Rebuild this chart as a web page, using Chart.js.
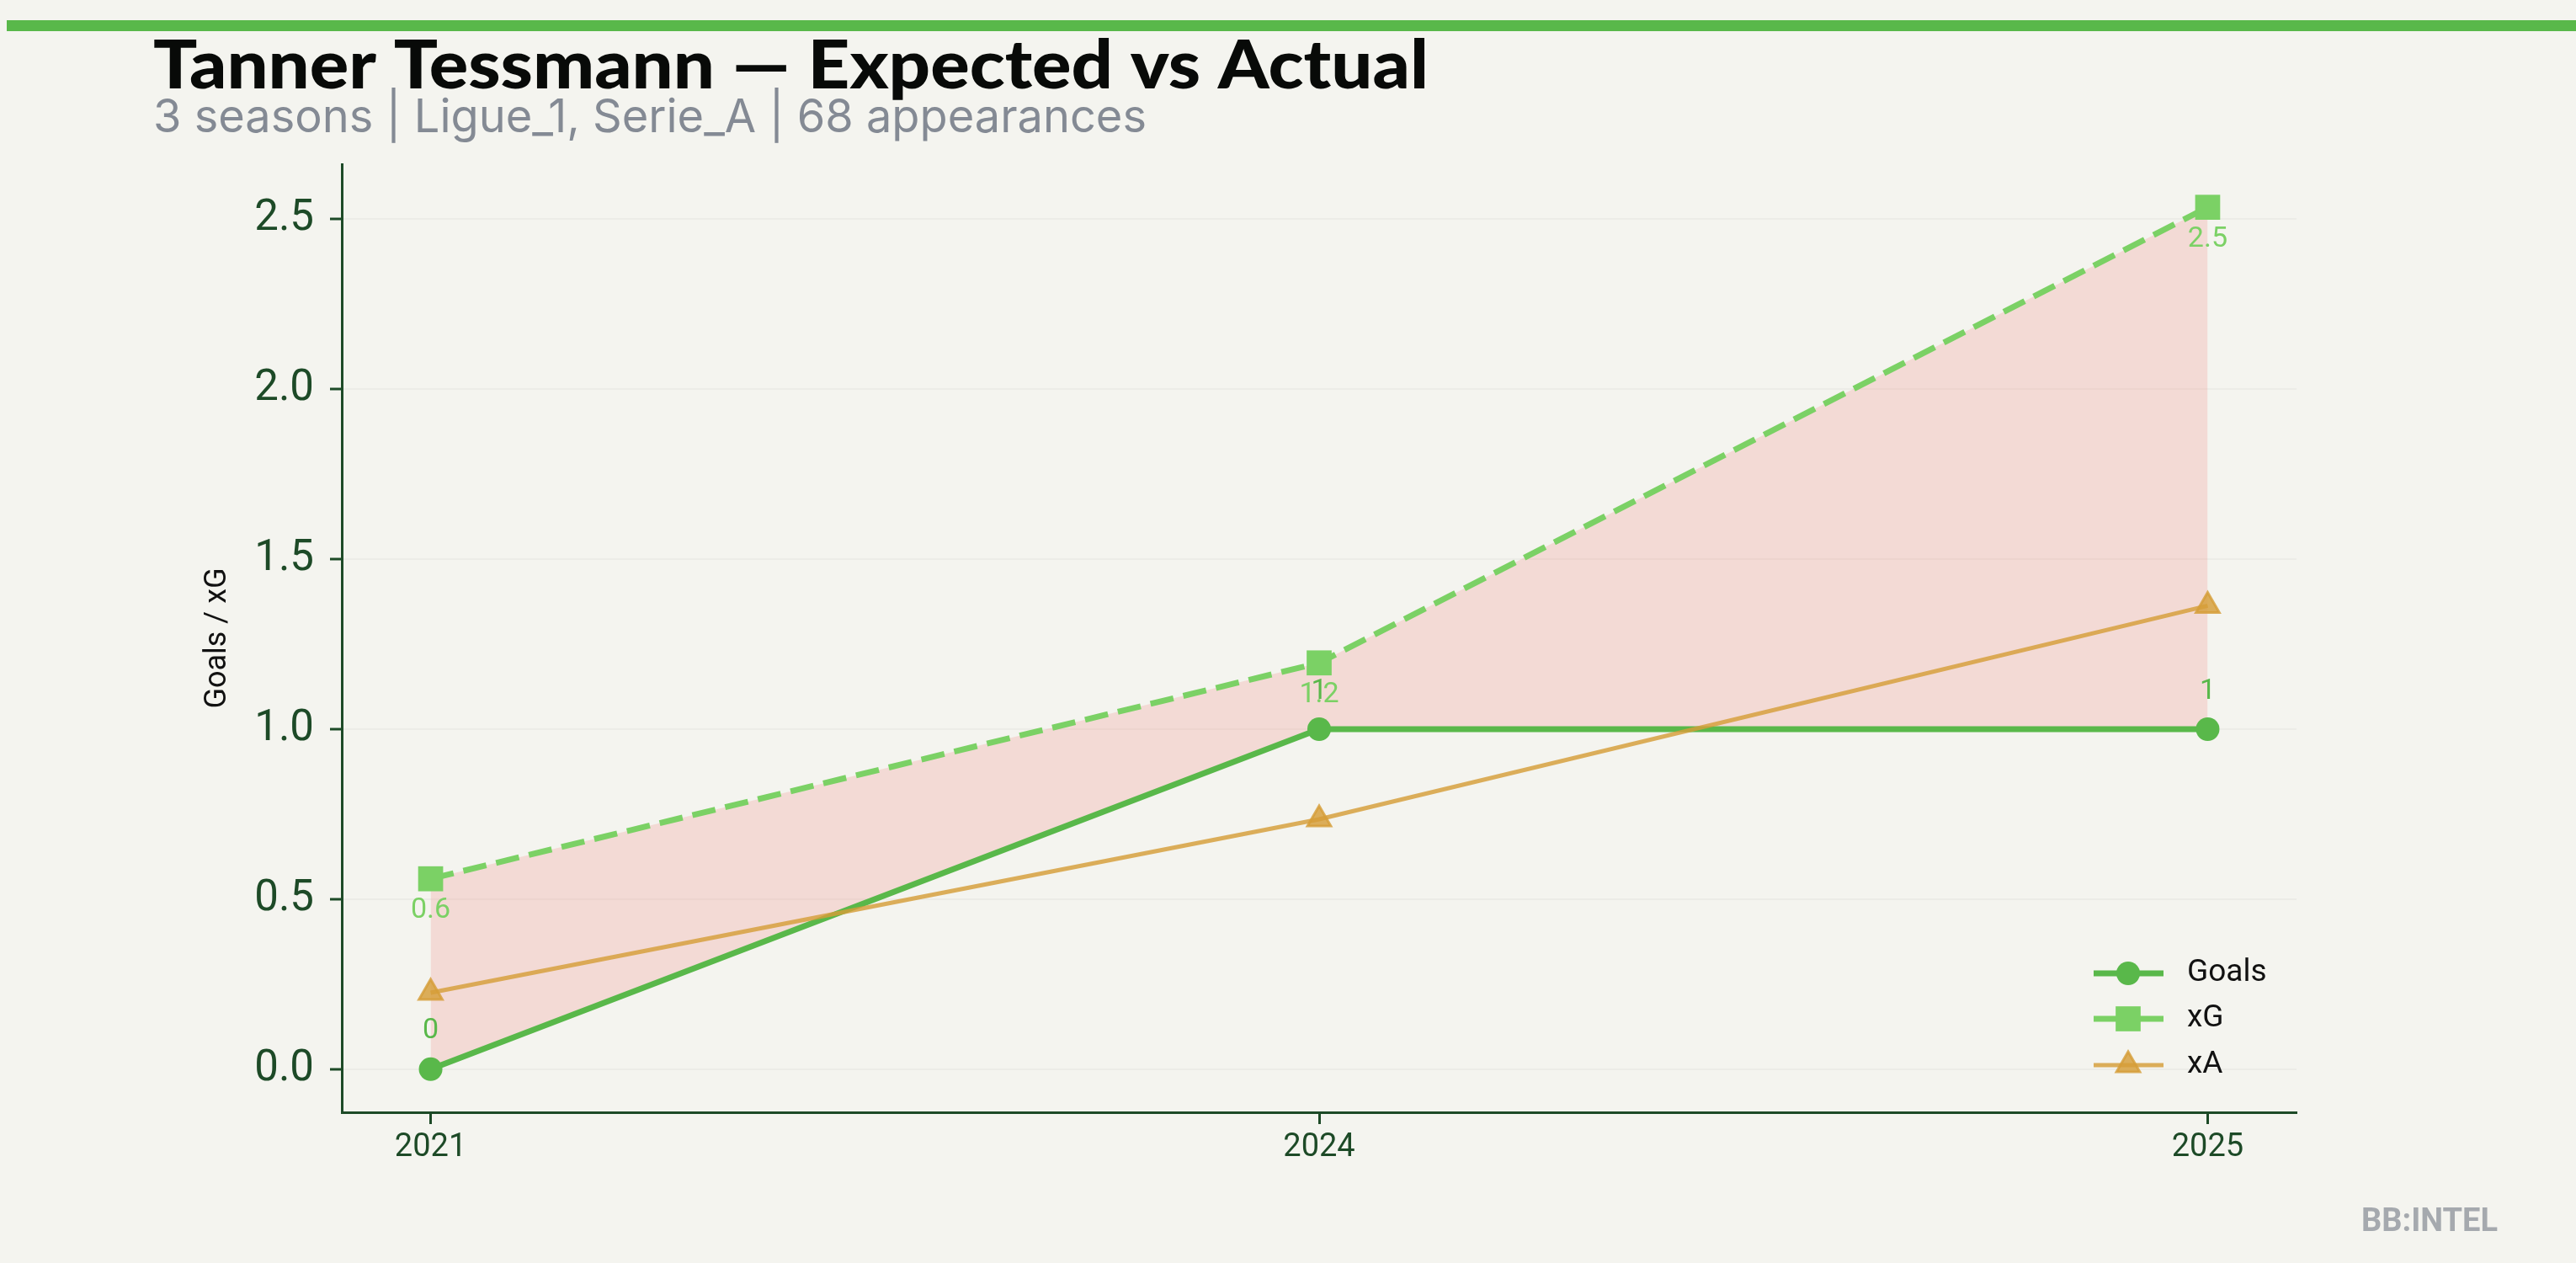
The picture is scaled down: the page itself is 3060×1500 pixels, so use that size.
<!DOCTYPE html>
<html>
<head>
<meta charset="utf-8">
<script src="https://cdn.jsdelivr.net/npm/chart.js@4.4.1/dist/chart.umd.min.js"></script>
<style>
html, body { margin: 0; padding: 0; background: #f4f4ef; }
#wrap { width: 3060px; height: 1500px; }
</style>
</head>
<body>
<div id="wrap"><canvas id="xgChart" width="3060" height="1500"></canvas></div>
<script>
// values
var seasons = ['2021', '2024', '2025'];
var goals = [0, 1, 1];
var xG = [0.56, 1.195, 2.535];
var xA = [0.225, 0.735, 1.363];
var yTicks = [0, 0.5, 1, 1.5, 2, 2.5];
var seriesNames = ['Goals', 'xG', 'xA'];

var titleText = 'Tanner Tessmann \u2014 Expected vs Actual';
var subText = '3 seasons | Ligue_1, Serie_A | 68 appearances';

var BG = '#f4f4ef';
var AXIS = '#1d4a27';
var GREEN = '#59b84a';
var LIGHT = '#7bd165';
var GOLD = 'rgba(214,158,56,0.82)';

function toPoints(arr) {
    return arr.map(function (v, i) { return {x: i, y: v}; });
}

// matplotlib style 5% margins on the y range
var allVals = goals.concat(xG, xA);
var lo = Math.min.apply(null, allVals), hi = Math.max.apply(null, allVals);
var pad = (hi - lo) * 0.05;

// draw text squeezed/stretched to a given width
function fitText(ctx, text, x, y, width) {
    var w = ctx.measureText(text).width;
    ctx.save();
    ctx.translate(x, y);
    ctx.scale(width / w, 1);
    ctx.fillText(text, 0, 0);
    ctx.restore();
}

var headerPlugin = {
    id: 'header',
    beforeDraw: function (chart) {
        var ctx = chart.ctx;
        ctx.save();
        ctx.fillStyle = BG;
        ctx.fillRect(0, 0, chart.width, chart.height);
        ctx.fillStyle = GREEN;
        ctx.fillRect(8, 24, chart.width - 8, 13);
        ctx.textAlign = 'left';
        ctx.textBaseline = 'alphabetic';
        ctx.fillStyle = '#080a08';
        ctx.font = '900 80px Lato';
        fitText(ctx, titleText, 182, 105, 1515);
        ctx.fillStyle = '#848a94';
        ctx.font = '55px Inter';
        fitText(ctx, subText, 182, 157, 1180);
        ctx.restore();
    }
};

function marker(ctx, style, x, y, r) {
    ctx.beginPath();
    if (style === 'circle') {
        ctx.arc(x, y, r, 0, Math.PI * 2);
    } else if (style === 'rect') {
        var s = r * Math.SQRT1_2;
        ctx.rect(x - s, y - s, 2 * s, 2 * s);
    } else {
        ctx.moveTo(x, y - r);
        ctx.lineTo(x + r * 0.866, y + r / 2);
        ctx.lineTo(x - r * 0.866, y + r / 2);
        ctx.closePath();
    }
}

var overlayPlugin = {
    id: 'overlay',
    afterDatasetsDraw: function (chart) {
        var ctx = chart.ctx;
        ctx.save();
        ctx.font = '34px Roboto';
        ctx.textAlign = 'center';
        ctx.textBaseline = 'middle';
        // value labels: xG under the squares, goals above the circles
        chart.getDatasetMeta(1).data.forEach(function (pt, i) {
            ctx.fillStyle = LIGHT;
            ctx.fillText(xG[i].toFixed(1), pt.x, pt.y + 38);
        });
        chart.getDatasetMeta(0).data.forEach(function (pt, i) {
            ctx.fillStyle = GREEN;
            ctx.fillText(String(goals[i]), pt.x, pt.y - 45);
        });

        // legend
        var rowY = [1156, 1210, 1265];
        chart.data.datasets.forEach(function (ds, i) {
            var y = rowY[i];
            ctx.strokeStyle = ds.borderColor;
            ctx.lineWidth = ds.borderWidth;
            ctx.setLineDash([]);
            ctx.beginPath();
            ctx.moveTo(2487, y);
            ctx.lineTo(2570, y);
            ctx.stroke();
            marker(ctx, ds.pointStyle, 2528, y, ds.pointRadius);
            ctx.fillStyle = ds.pointBackgroundColor;
            ctx.fill();
            if (ds.pointBorderWidth) {
                ctx.lineWidth = ds.pointBorderWidth;
                ctx.strokeStyle = ds.pointBorderColor;
                ctx.stroke();
            }
            ctx.fillStyle = '#111';
            ctx.font = '37px Roboto';
            ctx.textAlign = 'left';
            ctx.fillText(seriesNames[i], 2598, y);
        });

        // watermark
        ctx.fillStyle = '#a5a9ae';
        ctx.font = 'bold 38px Roboto';
        ctx.textAlign = 'right';
        ctx.textBaseline = 'alphabetic';
        ctx.fillText('BB:INTEL', 2967, 1462);
        ctx.restore();
    }
};

const ctx = document.getElementById('xgChart').getContext('2d');
const xgChart = new Chart(ctx, {
    type: 'line',
    data: {
        datasets: [{
            label: seriesNames[0],
            data: toPoints(goals),
            borderColor: GREEN,
            borderWidth: 7,
            pointStyle: 'circle',
            pointRadius: 14,
            pointBackgroundColor: GREEN,
            pointBorderWidth: 0,
            fill: false,
            order: 1
        }, {
            label: seriesNames[1],
            data: toPoints(xG),
            borderColor: LIGHT,
            borderWidth: 7,
            borderDash: [28, 12],
            pointStyle: 'rect',
            pointRadius: 21,
            pointBackgroundColor: LIGHT,
            pointBorderWidth: 0,
            fill: {target: 0},
            backgroundColor: 'rgba(244,140,128,0.24)',
            order: 2
        }, {
            label: seriesNames[2],
            data: toPoints(xA),
            borderColor: GOLD,
            borderWidth: 5,
            pointStyle: 'triangle',
            pointRadius: 16,
            pointBackgroundColor: GOLD,
            pointBorderColor: GOLD,
            pointBorderWidth: 3,
            fill: false,
            order: 0
        }]
    },
    options: {
        responsive: false,
        animation: false,
        devicePixelRatio: 1,
        layout: { padding: { top: 195, right: 332, bottom: 0, left: 0 } },
        plugins: {
            legend: { display: false },
            tooltip: { enabled: false },
            filler: { drawTime: 'beforeDatasetsDraw' }
        },
        scales: {
            x: {
                type: 'linear',
                min: -0.1,
                max: seasons.length - 1 + 0.1,
                afterFit: function (scale) { scale.height = 179; },
                afterBuildTicks: function (scale) {
                    scale.ticks = seasons.map(function (s, i) { return {value: i}; });
                },
                ticks: {
                    callback: function (v) { return seasons[v]; },
                    font: { family: 'Roboto', size: 38 },
                    color: AXIS,
                    padding: 6,
                    maxRotation: 0,
                    autoSkip: false
                },
                grid: { drawOnChartArea: false, tickLength: 14, tickWidth: 3, tickColor: AXIS },
                border: { color: AXIS, width: 3 }
            },
            y: {
                min: lo - pad,
                max: hi + pad,
                afterFit: function (scale) { scale.width = 406; },
                afterBuildTicks: function (scale) {
                    scale.ticks = yTicks.map(function (v) { return {value: v}; });
                },
                ticks: {
                    callback: function (v) { return v.toFixed(1); },
                    font: { family: 'Roboto', size: 51 },
                    color: AXIS,
                    padding: 19
                },
                grid: { color: 'rgba(0,0,0,0.03)', lineWidth: 2, tickLength: 14, tickWidth: 3, tickColor: AXIS },
                border: { color: AXIS, width: 3 },
                title: {
                    display: true,
                    text: 'Goals / xG',
                    font: { family: 'Roboto', size: 36 },
                    color: '#111',
                    padding: { top: 237, bottom: 0 }
                }
            }
        }
    },
    plugins: [headerPlugin, overlayPlugin]
});
</script>
</body>
</html>
